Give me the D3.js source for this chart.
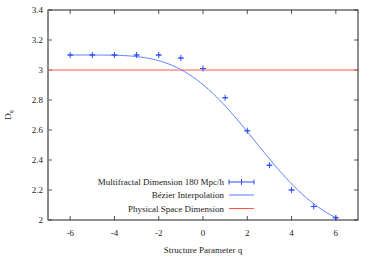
<!DOCTYPE html>
<html>
<head>
<meta charset="utf-8">
<script src="https://cdn.jsdelivr.net/npm/d3@7"></script>
<style>
  body { margin: 0; background: #fff; }
  text { font-family: "Liberation Serif", "DejaVu Serif", serif; fill: #222; }
</style>
</head>
<body>
<div id="chart"></div>
<script>
// Multifractal dimension data
const qValues = [-6, -5, -4, -3, -2, -1, 0, 1, 2, 3, 4, 5, 6];
const dqValues = [3.10, 3.10, 3.10, 3.10, 3.10, 3.08, 3.01, 2.815, 2.595, 2.365, 2.20, 2.09, 2.015];
const qErrors = [0.1, 0.1, 0.1, 0.1, 0.1, 0.1, 0.1, 0.1, 0.1, 0.1, 0.1, 0.1, 0.1];
const physicalDimension = 3;
const xTicks = [-6, -4, -2, 0, 2, 4, 6];
const yTicks = [2, 2.2, 2.4, 2.6, 2.8, 3, 3.2, 3.4];
const legendLabels = ["Multifractal Dimension 180 Mpc/h", "Bézier Interpolation", "Physical Space Dimension"];

const width = 374, height = 263;
const margin = { top: 10, right: 16, bottom: 43, left: 48 };

const svg = d3.select("#chart").append("svg")
    .attr("width", width)
    .attr("height", height);

const x = d3.scaleLinear().domain([-7, 7]).range([margin.left, width - margin.right]);
const y = d3.scaleLinear().domain([2, 3.4]).range([height - margin.bottom, margin.top]);

const blue = "#5a7cff";
const pointBlue = "#2a4dff";
const red = "#ff5a4a";

// Bezier curve using every point as a control point (gnuplot smooth bezier)
function bezierPoints(px, py, n) {
    const out = [];
    for (let i = 0; i <= n; i++) {
        const t = i / n;
        let bx = px.slice(), by = py.slice();
        for (let k = bx.length - 1; k > 0; k--) {
            for (let j = 0; j < k; j++) {
                bx[j] = bx[j] * (1 - t) + bx[j + 1] * t;
                by[j] = by[j] * (1 - t) + by[j + 1] * t;
            }
        }
        out.push([bx[0], by[0]]);
    }
    return out;
}

const line = d3.line().x(d => x(d[0])).y(d => y(d[1]));

// Ticks (inward, mirrored)
const tickLen = 4;
const ticksG = svg.append("g").attr("stroke", "#555").attr("stroke-width", 1);
xTicks.forEach(t => {
    ticksG.append("line").attr("x1", x(t)).attr("x2", x(t))
        .attr("y1", y.range()[0]).attr("y2", y.range()[0] - tickLen);
    ticksG.append("line").attr("x1", x(t)).attr("x2", x(t))
        .attr("y1", y.range()[1]).attr("y2", y.range()[1] + tickLen);
});
yTicks.forEach(t => {
    ticksG.append("line").attr("x1", x.range()[0]).attr("x2", x.range()[0] + tickLen)
        .attr("y1", y(t)).attr("y2", y(t));
    ticksG.append("line").attr("x1", x.range()[1]).attr("x2", x.range()[1] - tickLen)
        .attr("y1", y(t)).attr("y2", y(t));
});

// Tick labels
svg.append("g").selectAll("text")
    .data(xTicks)
    .join("text")
    .attr("x", d => x(d))
    .attr("y", y.range()[0] + 16)
    .attr("text-anchor", "middle")
    .style("font-size", "9px")
    .text(d => d);

svg.append("g").selectAll("text")
    .data(yTicks)
    .join("text")
    .attr("x", x.range()[0] - 5)
    .attr("y", d => y(d) + 3)
    .attr("text-anchor", "end")
    .style("font-size", "9px")
    .text(d => d3.format("")(d));

// Physical space dimension line
svg.append("line")
    .attr("x1", x.range()[0]).attr("x2", x.range()[1])
    .attr("y1", y(physicalDimension)).attr("y2", y(physicalDimension))
    .attr("stroke", red).attr("stroke-width", 1.2);

// Bezier interpolation
const curve = bezierPoints(qValues, dqValues, 200);
svg.append("path")
    .datum(curve)
    .attr("d", line)
    .attr("fill", "none")
    .attr("stroke", blue)
    .attr("stroke-width", 1);

// Data points with horizontal error bars
const pts = svg.append("g").attr("stroke", pointBlue).attr("stroke-width", 1);
qValues.forEach((q, i) => {
    const cx = x(q), cy = y(dqValues[i]);
    pts.append("line").attr("x1", x(q - qErrors[i])).attr("x2", x(q + qErrors[i]))
        .attr("y1", cy).attr("y2", cy);
    pts.append("line").attr("x1", cx - 3).attr("x2", cx + 3).attr("y1", cy).attr("y2", cy);
    pts.append("line").attr("x1", cx).attr("x2", cx).attr("y1", cy - 3).attr("y2", cy + 3);
});

// Frame
svg.append("rect")
    .attr("x", x.range()[0]).attr("y", y.range()[1])
    .attr("width", x.range()[1] - x.range()[0])
    .attr("height", y.range()[0] - y.range()[1])
    .attr("fill", "none").attr("stroke", "#222").attr("stroke-width", 1);
svg.append("line")
    .attr("x1", x.range()[0]).attr("x2", x.range()[0])
    .attr("y1", y.range()[1]).attr("y2", y.range()[0])
    .attr("stroke", "#888").attr("stroke-width", 1.5);

// Legend
const legendRows = [182, 195, 208.5];
const lx0 = 229, lx1 = 254;
const legend = svg.append("g");
legendLabels.forEach((label, i) => {
    legend.append("text")
        .attr("x", lx0 - 5)
        .attr("y", legendRows[i] + 3)
        .attr("text-anchor", "end")
        .style("font-size", "9px")
        .text(label);
});
// legend samples
const ly0 = legendRows[0];
legend.append("line").attr("x1", lx0).attr("x2", lx1).attr("y1", ly0).attr("y2", ly0)
    .attr("stroke", pointBlue);
[lx0, lx1].forEach(xx => legend.append("line").attr("x1", xx).attr("x2", xx)
    .attr("y1", ly0 - 2.5).attr("y2", ly0 + 2.5).attr("stroke", pointBlue));
legend.append("line").attr("x1", (lx0 + lx1) / 2).attr("x2", (lx0 + lx1) / 2)
    .attr("y1", ly0 - 3).attr("y2", ly0 + 3).attr("stroke", pointBlue);
legend.append("line").attr("x1", lx0).attr("x2", lx1)
    .attr("y1", legendRows[1]).attr("y2", legendRows[1]).attr("stroke", blue);
legend.append("line").attr("x1", lx0).attr("x2", lx1)
    .attr("y1", legendRows[2]).attr("y2", legendRows[2]).attr("stroke", red);

// Axis titles
svg.append("text")
    .attr("x", x(0))
    .attr("y", 253)
    .attr("text-anchor", "middle")
    .style("font-size", "9px")
    .text("Structure Parameter q");

const yl = svg.append("text")
    .attr("transform", `translate(11,${y(2.7)}) rotate(-90)`)
    .attr("text-anchor", "middle")
    .style("font-size", "9px");
yl.append("tspan").text("D");
yl.append("tspan").attr("dy", 2).style("font-size", "6px").text("q");
</script>
</body>
</html>
